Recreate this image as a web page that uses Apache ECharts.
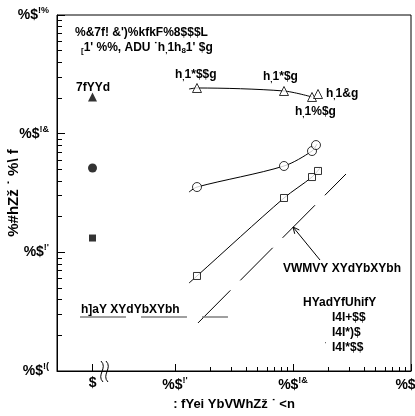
<!DOCTYPE html>
<html><head><meta charset="utf-8">
<script src="https://cdn.jsdelivr.net/npm/echarts@6/dist/echarts.min.js"></script>
<style>html,body{margin:0;padding:0;background:#fff}#c{width:415px;height:416px}</style>
</head><body><div id="c"></div>
<script>
// ---------- data ----------
// axis ticks (x = 2e-4 stands for the broken-axis "0" position)
const xMajor = [2e-4, 1e-3, 1e-2, 1e-1];
const xMajorBase = ['$', '%$', '%$', '%$'];
const xMajorSup = ['', "!'", '!&', '!%'];
const xMinor = [2e-3,3e-3,4e-3,5e-3,6e-3,7e-3,8e-3,9e-3,2e-2,3e-2,4e-2,5e-2,6e-2,7e-2,8e-2,9e-2];
const yMajor = [1e-4, 1e-3, 1e-2, 1e-1];
const yMajorBase = ['%$', '%$', '%$', '%$'];
const yMajorSup = ['!(', "!'", '!&', '!%'];
const yMinor = [2e-4,3e-4,4e-4,5e-4,6e-4,7e-4,8e-4,9e-4,2e-3,3e-3,4e-3,5e-3,6e-3,7e-3,8e-3,9e-3,2e-2,3e-2,4e-2,5e-2,6e-2,7e-2,8e-2,9e-2];

// measured points (open symbols): frequency, value
const triX = [1.536e-3, 8.39e-3, 0.01449, 0.01629];
const triY = [0.02426, 0.02289, 0.02038, 0.02159];
const cirX = [1.536e-3, 8.39e-3, 0.01449, 0.01566];
const cirY = [3.55e-3, 5.34e-3, 7.14e-3, 8.02e-3];
const sqX  = [1.536e-3, 8.39e-3, 0.01449, 0.01629];
const sqY  = [6.32e-4, 2.87e-3, 4.31e-3, 4.85e-3];
// fitted curves through the points
const triFitX = [1.314e-3, 1.536e-3, 8.39e-3, 0.01449];
const triFitY = [0.02378, 0.02426, 0.02289, 0.02038];
const cirFitX = [1.314e-3, 1.536e-3, 8.39e-3, 0.01449, 0.01597];
const cirFitY = [3.22e-3, 3.55e-3, 5.34e-3, 7.14e-3, 8.18e-3];
const sqFitX  = [1.314e-3, 1.536e-3, 8.39e-3, 0.01449, 0.01694];
const sqFitY  = [5.51e-4, 6.32e-4, 2.87e-3, 4.31e-3, 5.14e-3];
// creep values at "0" frequency (filled symbols)
const creepX = [2e-4, 2e-4, 2e-4];
const creepY = [0.0204, 5.14e-3, 1.32e-3];
const creepSym = ['triangle', 'circle', 'rect'];
// dashed theoretical line and grey horizontal line
const dashX = [1.566e-3, 0.02812];
const dashY = [2.54e-4, 4.57e-3];
const greyX = [1.566e-4, 2.812e-3];
const greyY = [2.85e-4, 2.85e-4];

// texts
const title1 = "%&7f! &')%kfkF%8$$$L";
const title2 = "{s|[}1' %%, ADU ˙h{s|‚}1h{s|8}1' $g";
const creepLabel = '7fYYd';
const timeLabels = ['h{s|‚}1*$$g', 'h{s|‚}1*$g', 'h{s|‚}1%$g', 'h{s|‚}1&g'];
const dashLabel = 'VWMVY XYdYbXYbh';
const greyLabel = 'h]aY XYdYbXYbh';
const legendTitle = 'HYadYfUhifY';
const legendItems = ['I4I+$$', 'I4I*)$', 'I4I*$$'];
const xTitle = ': fYei YbVWhZž ˙ <n';
const yTitle = '%#hZž ˙ %\\ f';

// ---------- chart ----------
const FONT = '"Liberation Sans", Arial, sans-serif';
const bold12 = 'bold 12px ' + FONT;
const subRich = { s: { fontSize: 8, fontWeight: 'bold', fontFamily: FONT, padding: [6, 0, 0, 0] } };
const pairs = (xs, ys) => xs.map((x, i) => [x, ys[i]]);
const near = (a, b) => Math.abs(Math.log10(a) - Math.log10(b)) < 0.01;
function fmt(vals, base, sup) {
  return function (v) {
    for (let i = 0; i < vals.length; i++) if (near(v, vals[i])) {
      return '{b|' + base[i] + '}' + (sup[i] ? '{s|' + sup[i] + '}' : '');
    }
    return '';
  };
}
const labelRich = {
  b: { fontSize: 14, fontWeight: 'bold', fontFamily: FONT, color: '#000' },
  s: { fontSize: 9, fontWeight: 'bold', fontFamily: FONT, color: '#000', padding: [0, 0, 9, 0] }
};

const chart = echarts.init(document.getElementById('c'), null, { renderer: 'canvas' });
const openStyle = { color: '#fff', borderColor: '#000', borderWidth: 1 };
const fitLine = (xs, ys) => ({
  type: 'line', data: pairs(xs, ys), smooth: 0.3, showSymbol: false, symbol: 'none',
  lineStyle: { color: '#000', width: 1 }, z: 2, silent: true
});
const openPts = (xs, ys, sym, size) => ({
  type: 'scatter', data: pairs(xs, ys), symbol: sym, symbolSize: size,
  itemStyle: openStyle, z: 5, silent: true
});
const txt = (x, y, text, extra) => ({ type: 'text', x: x, y: y,
  style: Object.assign({ text: text, font: bold12, fill: '#000', verticalAlign: 'middle', rich: subRich }, extra || {}) });

chart.setOption({
  animation: false,
  backgroundColor: '#fff',
  grid: { left: 57, right: 4, top: 15, bottom: 45, containLabel: false, outerBoundsMode: 'none',
          show: true, borderColor: '#000', borderWidth: 1, backgroundColor: 'transparent' },
  xAxis: [
    { type: 'log', min: 1e-4, max: 1e-1, position: 'bottom',
      name: xTitle, nameLocation: 'middle', nameGap: 27, nameMoveOverlap: false,
      nameTextStyle: { fontSize: 13, fontWeight: 'bold', fontFamily: FONT, color: '#000' },
      axisLine: { show: true, lineStyle: { color: '#000', width: 1 } },
      axisTick: { show: true, inside: true, length: 7, customValues: xMajor, lineStyle: { color: '#000' } },
      axisLabel: { show: true, customValues: xMajor, formatter: fmt(xMajor, xMajorBase, xMajorSup), rich: labelRich, margin: 5 },
      splitLine: { show: false }, minorTick: { show: false } },
    { type: 'log', min: 1e-4, max: 1e-1, position: 'bottom', offset: 0,
      axisLine: { show: false },
      axisTick: { show: true, inside: true, length: 4, customValues: xMinor, lineStyle: { color: '#000' } },
      axisLabel: { show: false }, splitLine: { show: false } }
  ],
  yAxis: [
    { type: 'log', min: 1e-4, max: 1e-1, position: 'left',
      name: yTitle, nameLocation: 'middle', nameGap: 36, nameRotate: 90, nameMoveOverlap: false,
      nameTextStyle: { fontSize: 15, fontWeight: 'bold', fontFamily: FONT, color: '#000' },
      axisLine: { show: true, lineStyle: { color: '#000', width: 1 } },
      axisTick: { show: true, inside: true, length: 8, customValues: yMajor, lineStyle: { color: '#000' } },
      axisLabel: { show: true, customValues: yMajor, formatter: fmt(yMajor, yMajorBase, yMajorSup), rich: labelRich, margin: 8 },
      splitLine: { show: false } },
    { type: 'log', min: 1e-4, max: 1e-1, position: 'left', offset: 0,
      axisLine: { show: false },
      axisTick: { show: true, inside: true, length: 5, customValues: yMinor, lineStyle: { color: '#000' } },
      axisLabel: { show: false }, splitLine: { show: false } }
  ],
  series: [
    fitLine(triFitX, triFitY),
    fitLine(cirFitX, cirFitY),
    fitLine(sqFitX, sqFitY),
    openPts(triX, triY, 'triangle', 9),
    openPts(cirX, cirY, 'circle', 9),
    openPts(sqX, sqY, 'rect', 7),
    { type: 'scatter', silent: true, z: 5,
      data: creepX.map((x, i) => ({ value: [x, creepY[i]], symbol: creepSym[i], symbolSize: creepSym[i] === 'rect' ? 7 : 9 })),
      itemStyle: { color: '#000' } },
    { type: 'line', data: pairs(dashX, dashY), showSymbol: false, symbol: 'none', silent: true,
      lineStyle: { color: '#000', width: 1, type: [46, 14] } },
    { type: 'line', data: pairs(greyX, greyY), showSymbol: false, symbol: 'none', silent: true,
      lineStyle: { color: '#808080', width: 1.5, type: [46, 15] } }
  ],
  graphic: [
    txt(75, 33, title1),
    txt(81, 48, title2),
    txt(76, 88, creepLabel),
    txt(175, 75, timeLabels[0]),
    txt(263, 77, timeLabels[1]),
    txt(295, 112, timeLabels[2]),
    txt(326, 94, timeLabels[3]),
    txt(283, 269, dashLabel),
    txt(81, 310, greyLabel),
    txt(303, 303, legendTitle),
    txt(332, 318, legendItems[0]),
    txt(332, 333, legendItems[1]),
    txt(332, 348, legendItems[2]),
    txt(324, 345, 'ˈ', { font: 'bold 8px ' + FONT }),
    { type: 'line', shape: { x1: 320, y1: 260, x2: 293, y2: 227 }, style: { stroke: '#000', lineWidth: 1 } },
    { type: 'polyline', shape: { points: [[294.7, 233.8], [293, 227], [299.3, 230]] }, style: { stroke: '#000', lineWidth: 1, fill: null } },
    { type: 'bezierCurve', shape: { x1: 101, y1: 361, cpx1: 108, cpy1: 368, cpx2: 96, cpy2: 375, x2: 103, y2: 382 }, style: { stroke: '#000', lineWidth: 1, fill: null } },
    { type: 'bezierCurve', shape: { x1: 106, y1: 361, cpx1: 113, cpy1: 368, cpx2: 101, cpy2: 375, x2: 108, y2: 382 }, style: { stroke: '#000', lineWidth: 1, fill: null } }
  ]
});
</script></body></html>
